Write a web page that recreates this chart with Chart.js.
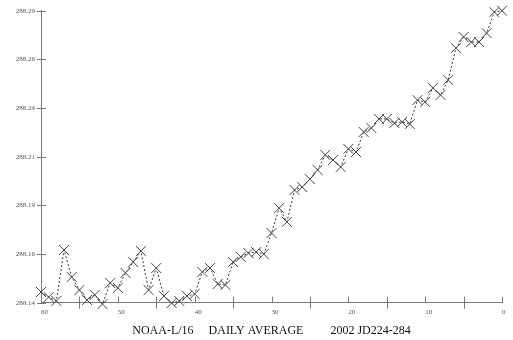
<!DOCTYPE html>
<html>
<head>
<meta charset="utf-8">
<script src="https://cdn.jsdelivr.net/npm/chart.js@4/dist/chart.umd.min.js"></script>
<style>
  html, body { margin: 0; padding: 0; background: #ffffff; }
  #wrap { width: 513px; height: 340px; position: relative; }
</style>
</head>
<body>
<div id="wrap"><canvas id="c" width="513" height="340"></canvas></div>
<script>
// Days before end of period (x) and daily average values (y)
const days = [60, 59, 58, 57, 56, 55, 54, 53, 52, 51,
              50, 49, 48, 47, 46, 45, 44, 43, 42, 41,
              40, 39, 38, 37, 36, 35, 34, 33, 32, 31,
              30, 29, 28, 27, 26, 25, 24, 23, 22, 21,
              20, 19, 18, 17, 16, 15, 14, 13, 12, 11,
              10, 9, 8, 7, 6, 5, 4, 3, 2, 1, 0];
const dailyAverage = [
  288.1455, 288.1429, 288.1409, 288.1671, 288.1532, 288.1465, 288.1414, 288.1440, 288.1393, 288.1501,
  288.1476, 288.1553, 288.1609, 288.1666, 288.1465, 288.1578, 288.1434, 288.1398, 288.1409, 288.1434,
  288.1445, 288.1558, 288.1578, 288.1496, 288.1491, 288.1609, 288.1635, 288.1655, 288.1660, 288.1650,
  288.1758, 288.1886, 288.1815, 288.1979, 288.1994, 288.2035, 288.2082, 288.2159, 288.2133, 288.2097,
  288.2190, 288.2174, 288.2277, 288.2297, 288.2344, 288.2344, 288.2323, 288.2328, 288.2318, 288.2441,
  288.2431, 288.2503, 288.2467, 288.2544, 288.2708, 288.2765, 288.2739, 288.2739, 288.2785, 288.2893,
  288.2900
];

// Axis ticks
const xTickValues = [60, 55, 50, 45, 40, 35, 30, 25, 20, 15, 10, 5, 0];
const xTickLabels = ['60', '', '50', '', '40', '', '30', '', '20', '', '10', '', '0'];
const yTickValues = [288.14, 288.165, 288.19, 288.215, 288.24, 288.265, 288.29];
const yTickLabels = ['288.14', '288.16', '288.19', '288.21', '288.24', '288.26', '288.29'];

const titleText = 'NOAA-L/16     DAILY AVERAGE         2002 JD224-284';

const axisColor = '#7a7a7a';
const labelColor = '#555555';

// Tick marks that cross the axis lines, plus the caption under the plot
const axisDecor = {
  id: 'axisDecor',
  afterDraw(chart) {
    const ctx = chart.ctx;
    const xs = chart.scales.x;
    const ys = chart.scales.y;
    const area = chart.chartArea;
    ctx.save();
    ctx.strokeStyle = axisColor;
    ctx.lineWidth = 1;
    ctx.beginPath();
    xTickValues.forEach((v, i) => {
      const px = Math.round(xs.getPixelForValue(v)) + 0.5;
      const below = xTickLabels[i] === '' ? 6 : 0;
      ctx.moveTo(px, area.bottom - 6);
      ctx.lineTo(px, area.bottom + below);
    });
    yTickValues.forEach(v => {
      const py = Math.round(ys.getPixelForValue(v)) + 0.5;
      ctx.moveTo(area.left - 4, py);
      ctx.lineTo(area.left + 5, py);
    });
    ctx.stroke();

    ctx.fillStyle = '#111111';
    ctx.font = '12px "Liberation Serif", "DejaVu Serif", serif';
    ctx.textAlign = 'center';
    ctx.textBaseline = 'alphabetic';
    ctx.fillText(titleText, (area.left + area.right) / 2, 334);
    ctx.restore();
  }
};

new Chart(document.getElementById('c'), {
  type: 'line',
  data: {
    datasets: [{
      data: days.map((d, i) => ({ x: d, y: dailyAverage[i] })),
      borderColor: '#3a3a3a',
      borderWidth: 1,
      borderDash: [2, 2],
      tension: 0,
      fill: false,
      pointStyle: 'crossRot',
      pointRadius: 7,
      pointBorderWidth: 1,
      pointBorderColor: '#444444',
      pointBackgroundColor: '#444444',
      clip: false
    }]
  },
  plugins: [axisDecor],
  options: {
    responsive: false,
    animation: false,
    events: [],
    layout: { padding: { top: 10.7, right: 11, bottom: 0, left: 0 } },
    plugins: {
      legend: { display: false },
      tooltip: { enabled: false },
      title: { display: false }
    },
    scales: {
      x: {
        type: 'linear',
        reverse: true,
        min: 0,
        max: 60,
        afterBuildTicks(scale) {
          scale.ticks = xTickValues.map(v => ({ value: v }));
        },
        afterFit(scale) { scale.height = 37.3; },
        grid: { display: false, drawTicks: false },
        border: { display: true, color: axisColor, width: 1 },
        ticks: {
          autoSkip: false,
          maxRotation: 0,
          minRotation: 0,
          align: 'start',
          padding: 5,
          color: labelColor,
          font: { family: '"Liberation Serif", "DejaVu Serif", serif', size: 7 },
          callback(value) {
            const i = xTickValues.indexOf(value);
            return i >= 0 ? xTickLabels[i] : '';
          }
        }
      },
      y: {
        type: 'linear',
        min: 288.14,
        max: 288.29,
        afterBuildTicks(scale) {
          scale.ticks = yTickValues.map(v => ({ value: v }));
        },
        afterFit(scale) { scale.width = 41; },
        grid: { display: false, drawTicks: false },
        border: { display: true, color: axisColor, width: 1 },
        ticks: {
          autoSkip: false,
          padding: 6,
          color: labelColor,
          font: { family: '"Liberation Serif", "DejaVu Serif", serif', size: 7 },
          callback(value) {
            const i = yTickValues.findIndex(v => Math.abs(v - value) < 1e-6);
            return i >= 0 ? yTickLabels[i] : '';
          }
        }
      }
    }
  }
});
</script>
</body>
</html>
